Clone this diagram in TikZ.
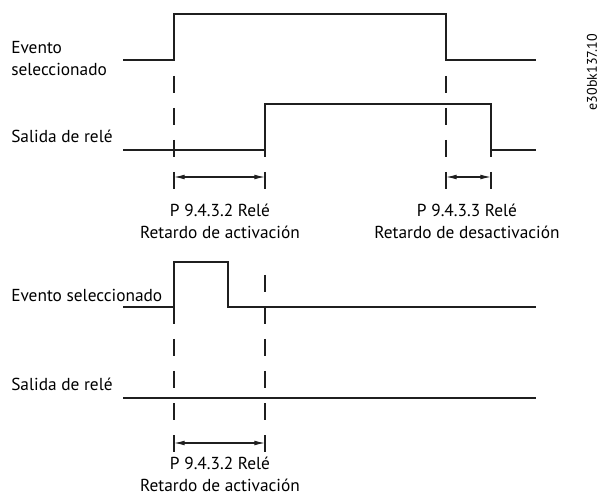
\documentclass[tikz,border=0pt]{standalone}
\usepackage{fontspec}
\setmainfont{PT Sans}
\usetikzlibrary{positioning, arrows.meta}
\definecolor{trazo}{gray}{0.12}

\begin{document}
\begin{tikzpicture}[x=0.75pt, y=-0.75pt,
    senal/.style={line width=0.9pt, trazo},
    guia/.style={line width=0.9pt, trazo, dash pattern=on 12.75pt off 11.25pt},
    cota/.style={{Latex[length=8pt,width=3.6pt]}-{Latex[length=8pt,width=3.6pt]}, line width=0.8pt, trazo},
    et/.style={font=\fontsize{13}{16.25}\selectfont, inner sep=0pt, align=center}]
  \useasboundingbox (0,0) rectangle (600,495);

  % --- primer caso: evento largo ---
  \node[et, align=left, anchor=base west] (ev1) at (11,75.5) {Evento\\seleccionado};
  \node[et, anchor=base west] (sr1) at (11,143) {Salida de relé};
  \draw[senal] (123,60) -- (174,60) -- (174,14) -- (446,14) -- (446,60) -- (536,60);
  \draw[senal] (123,150) -- (265,150) -- (265,104) -- (491,104) -- (491,150) -- (536,150);

  \coordinate (a1) at (174,177);
  \coordinate (b1) at (265,177);
  \coordinate (c1) at (446,177);
  \coordinate (d1) at (491,177);
  \draw[guia] (174,44) -- (174,190);
  \draw[guia] (446,44) -- (446,190);
  \draw[guia] (265,140) -- (265,190);
  \draw[guia] (491,140) -- (491,190);
  \draw[cota] (a1) -- (b1);
  \draw[cota] (c1) -- (d1);
  \node[et, anchor=base] (on1) at (220,238.3) {P 9.4.3.2 Relé\\Retardo de activación};
  \node[et, anchor=base] (off1) at (467,238.3) {P 9.4.3.3 Relé\\Retardo de desactivación};

  \node[font=\fontsize{10.5}{12}\selectfont, rotate=90, inner sep=0pt] (ref) at (592,72) {e30bk137.10};

  % --- segundo caso: evento corto ---
  \node[et, anchor=base west] (ev2) at (11,301.5) {Evento seleccionado};
  \node[et, anchor=base west] (sr2) at (11,390) {Salida de relé};
  \draw[senal] (123,307) -- (174,307) -- (174,262) -- (228,262) -- (228,307) -- (536,307);
  \draw[senal] (123,398) -- (536,398);

  \coordinate (a2) at (174,443);
  \coordinate (b2) at (265,443);
  \draw[guia] (174,275) -- (174,453);
  \draw[guia] (265,275) -- (265,453);
  \draw[cota] (a2) -- (b2);
  \node[et, anchor=base] (on2) at (220,491.5) {P 9.4.3.2 Relé\\Retardo de activación};
\end{tikzpicture}
\end{document}
